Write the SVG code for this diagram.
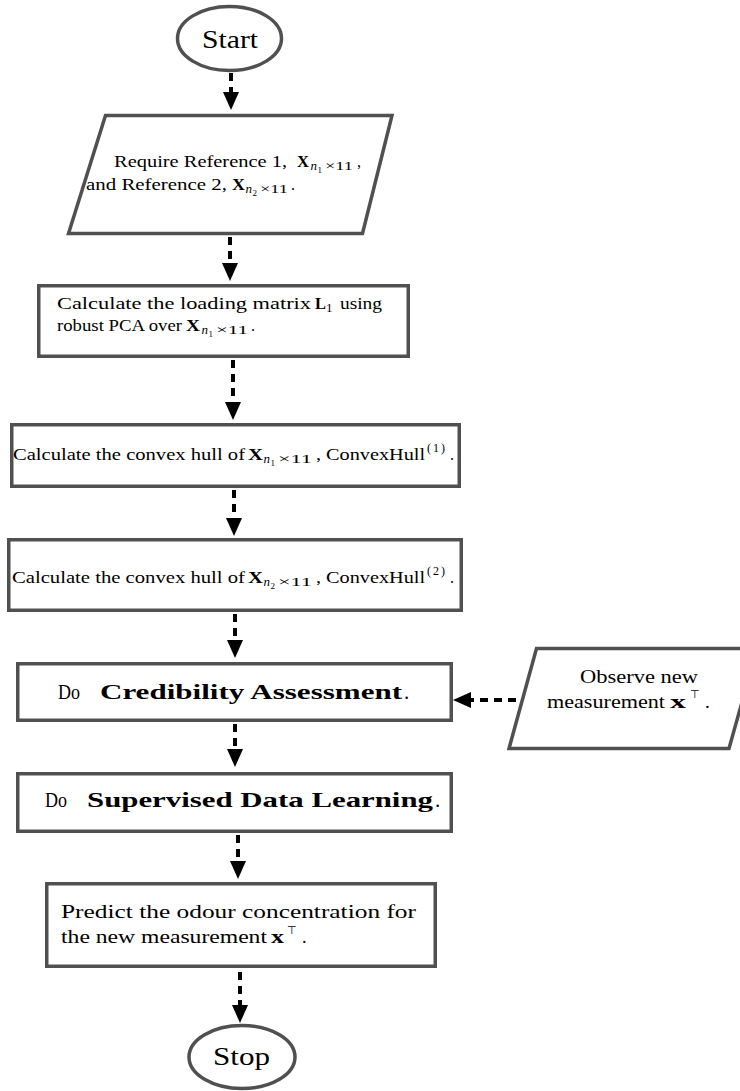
<svg xmlns="http://www.w3.org/2000/svg" width="740" height="1091" viewBox="0 0 740 1091">
<style>
.node{fill:#fff;stroke:#505050;stroke-width:3.5}
.conn{fill:none;stroke:#000;stroke-width:4;stroke-dasharray:8 6}
text{font-family:"Liberation Serif","Times New Roman",serif;fill:#000}
.t16{font-size:16px}
.t18{font-size:18px}
.t19{font-size:19px}
.t21{font-size:21px}
.t26{font-size:26px}
.b{font-weight:bold}
.i{font-style:italic}
.s13{font-size:13px}
.sup{font-size:12px;letter-spacing:2px}
.s9{font-size:9px}
.top{font-family:"DejaVu Sans",sans-serif;font-size:11px;fill:#000}
</style>
<defs>
<marker id="ah" markerUnits="userSpaceOnUse" markerWidth="18" markerHeight="16" viewBox="0 0 18 16" refX="0" refY="8" orient="auto">
<path d="M0,0 L18,8 L0,16 z" fill="#000"/>
</marker>
</defs>

<g id="connectors">
<line class="conn" x1="231" y1="73" x2="231" y2="92" marker-end="url(#ah)"/>
<line class="conn" x1="230" y1="237" x2="230" y2="263" marker-end="url(#ah)"/>
<line class="conn" x1="233" y1="360" x2="233" y2="402" marker-end="url(#ah)"/>
<line class="conn" x1="234" y1="490" x2="234" y2="518" marker-end="url(#ah)"/>
<line class="conn" x1="235" y1="614" x2="235" y2="640" marker-end="url(#ah)"/>
<line class="conn" x1="235" y1="724" x2="235" y2="749" marker-end="url(#ah)"/>
<line class="conn" x1="238" y1="835" x2="238" y2="861" marker-end="url(#ah)"/>
<line class="conn" x1="240" y1="972" x2="240" y2="1005" marker-end="url(#ah)"/>
<line class="conn" x1="516" y1="700" x2="471" y2="700" marker-end="url(#ah)"/>
</g>

<g id="start">
<ellipse class="node" cx="229.5" cy="38.5" rx="52" ry="32"/>
<text class="t26" x="202" y="48" textLength="56" lengthAdjust="spacingAndGlyphs">Start</text>
</g>

<g id="require">
<polygon class="node" points="105.5,115.5 392,115.5 362.5,233.5 68.5,233.5"/>
<text class="t16">
<tspan x="114" y="167" textLength="173" lengthAdjust="spacingAndGlyphs">Require Reference 1,</tspan>
<tspan class="b" x="297" y="167" textLength="12" lengthAdjust="spacingAndGlyphs">X</tspan>
<tspan class="i s13" x="310.5" y="170">n</tspan>
<tspan class="s9" x="317.5" y="172.5">1</tspan>
<tspan class="s13" x="325" y="170" textLength="28" lengthAdjust="spacingAndGlyphs">×11</tspan>
<tspan x="357" y="167">,</tspan>
<tspan x="86" y="190" textLength="141" lengthAdjust="spacingAndGlyphs">and Reference 2,</tspan>
<tspan class="b" x="232" y="190" textLength="13" lengthAdjust="spacingAndGlyphs">X</tspan>
<tspan class="i s13" x="245.5" y="193">n</tspan>
<tspan class="s9" x="252.5" y="195.5">2</tspan>
<tspan class="s13" x="260" y="193" textLength="28" lengthAdjust="spacingAndGlyphs">×11</tspan>
<tspan x="291" y="190">.</tspan>
</text>
</g>

<g id="loading">
<rect class="node" x="38.75" y="285.75" width="369.5" height="70.5"/>
<text class="t16">
<tspan x="57" y="309" textLength="254" lengthAdjust="spacingAndGlyphs">Calculate the loading matrix</tspan>
<tspan class="b" x="315" y="309" textLength="11" lengthAdjust="spacingAndGlyphs">L</tspan>
<tspan class="s13" x="326" y="312">1</tspan>
<tspan x="340" y="309" textLength="42" lengthAdjust="spacingAndGlyphs">using</tspan>
<tspan x="57" y="331" textLength="125" lengthAdjust="spacingAndGlyphs">robust PCA over</tspan>
<tspan class="b" x="186" y="331" textLength="14" lengthAdjust="spacingAndGlyphs">X</tspan>
<tspan class="i s13" x="201.5" y="334">n</tspan>
<tspan class="s9" x="208.5" y="336.5">1</tspan>
<tspan class="s13" x="216" y="334" textLength="32" lengthAdjust="spacingAndGlyphs">×11</tspan>
<tspan x="251" y="331">.</tspan>
</text>
</g>

<g id="hull1">
<rect class="node" x="11.75" y="424.75" width="447.5" height="61.5"/>
<text class="t16">
<tspan x="13" y="460" textLength="232" lengthAdjust="spacingAndGlyphs">Calculate the convex hull of</tspan>
<tspan class="b" x="248" y="460" textLength="15" lengthAdjust="spacingAndGlyphs">X</tspan>
<tspan class="i s13" x="263.5" y="463">n</tspan>
<tspan class="s9" x="270.5" y="465.5">1</tspan>
<tspan class="s13" x="278" y="463" textLength="34" lengthAdjust="spacingAndGlyphs">×11</tspan>
<tspan x="316" y="460" textLength="109" lengthAdjust="spacingAndGlyphs">, ConvexHull</tspan>
<tspan class="sup" x="427" y="452">(1)</tspan>
<tspan x="450" y="460">.</tspan>
</text>
</g>

<g id="hull2">
<rect class="node" x="8.75" y="539.75" width="452.5" height="70.5"/>
<text class="t16">
<tspan x="12" y="583" textLength="233" lengthAdjust="spacingAndGlyphs">Calculate the convex hull of</tspan>
<tspan class="b" x="248" y="583" textLength="15" lengthAdjust="spacingAndGlyphs">X</tspan>
<tspan class="i s13" x="263.5" y="586">n</tspan>
<tspan class="s9" x="270.5" y="588.5">2</tspan>
<tspan class="s13" x="278" y="586" textLength="34" lengthAdjust="spacingAndGlyphs">×11</tspan>
<tspan x="316" y="583" textLength="109" lengthAdjust="spacingAndGlyphs">, ConvexHull</tspan>
<tspan class="sup" x="427" y="575">(2)</tspan>
<tspan x="450" y="583">.</tspan>
</text>
</g>

<g id="credibility">
<rect class="node" x="17.75" y="663.75" width="433.5" height="56.5"/>
<text class="t21">
<tspan x="58" y="699" textLength="22" lengthAdjust="spacingAndGlyphs">Do</tspan>
<tspan class="b" x="100" y="699" textLength="302" lengthAdjust="spacingAndGlyphs">Credibility Assessment</tspan>
<tspan x="404" y="699">.</tspan>
</text>
</g>

<g id="observe">
<polygon class="node" points="536.5,648.5 757,648.5 729,748.5 509,748.5"/>
<text class="t19">
<tspan x="580" y="683" textLength="118" lengthAdjust="spacingAndGlyphs">Observe new</tspan>
<tspan x="547" y="708" textLength="118" lengthAdjust="spacingAndGlyphs">measurement</tspan>
<tspan class="b" x="670" y="708" textLength="16" lengthAdjust="spacingAndGlyphs">x</tspan>
<tspan class="top" x="690" y="698">⊤</tspan>
<tspan x="705" y="708">.</tspan>
</text>
</g>

<g id="supervised">
<rect class="node" x="17.75" y="773.75" width="433.5" height="57.5"/>
<text class="t21">
<tspan x="45" y="807" textLength="22" lengthAdjust="spacingAndGlyphs">Do</tspan>
<tspan class="b" x="87" y="807" textLength="346" lengthAdjust="spacingAndGlyphs">Supervised Data Learning</tspan>
<tspan x="435" y="807">.</tspan>
</text>
</g>

<g id="predict">
<rect class="node" x="46.75" y="883.75" width="388.5" height="82.5"/>
<text class="t18">
<tspan x="61" y="918" textLength="355" lengthAdjust="spacingAndGlyphs">Predict the odour concentration for</tspan>
<tspan x="61" y="943" textLength="206" lengthAdjust="spacingAndGlyphs">the new measurement</tspan>
<tspan class="b" x="271" y="943" textLength="13" lengthAdjust="spacingAndGlyphs">x</tspan>
<tspan class="top" x="287" y="934">⊤</tspan>
<tspan x="302" y="943">.</tspan>
</text>
</g>

<g id="stop">
<ellipse class="node" cx="242" cy="1057" rx="53" ry="31.5"/>
<text class="t26" x="213" y="1065" textLength="57" lengthAdjust="spacingAndGlyphs">Stop</text>
</g>
</svg>
